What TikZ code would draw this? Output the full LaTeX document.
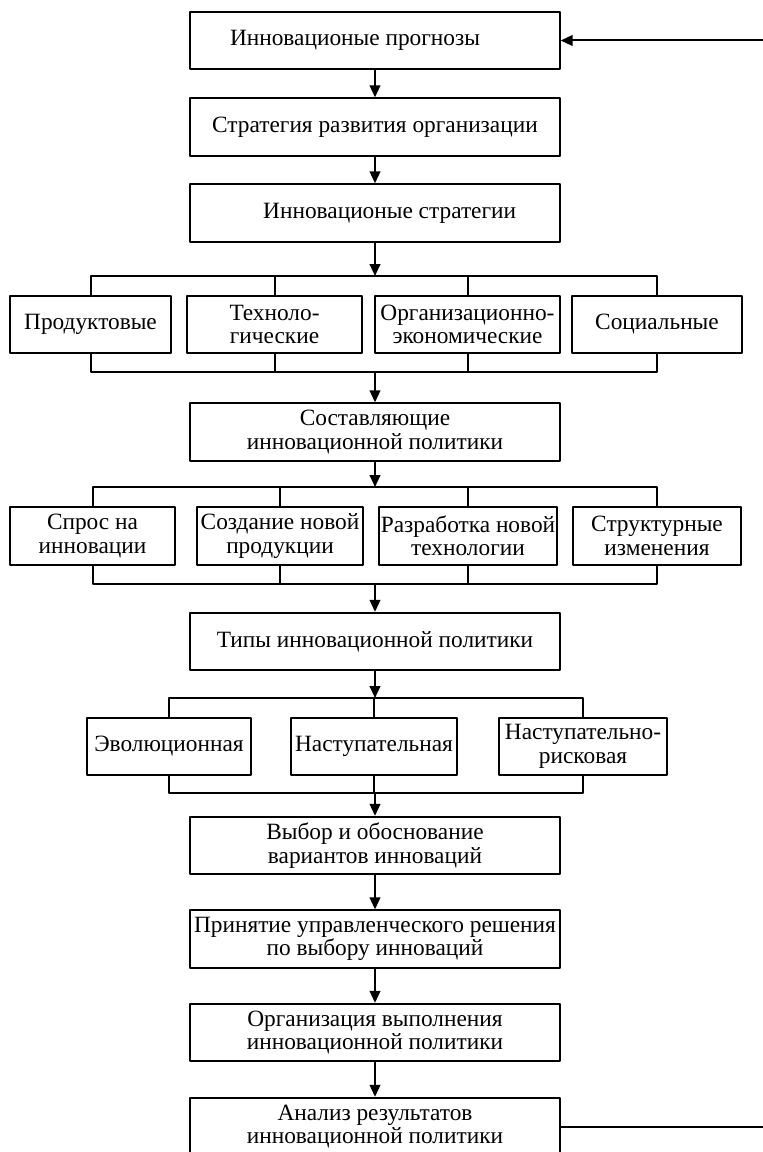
\documentclass[tikz,border=0pt]{standalone}
\usepackage{fontspec}
\setmainfont{Liberation Serif}
\usetikzlibrary{arrows.meta}
\begin{document}
\begin{tikzpicture}[x=0.75pt,y=-0.75pt,line join=round,line width=1.5pt,
  >={Triangle[length=9pt,width=8pt]},font=\fontsize{17.5}{17.5}\selectfont,
  box/.style={draw,align=center,inner sep=0pt,minimum width=277pt,minimum height=43pt},
  sbox/.style={draw,align=center,inner sep=0pt,minimum height=43pt}]
\useasboundingbox (0,0) rectangle (763,1152);
\clip (0,0) rectangle (763,1152);
% main column
\node[box] (prog) at (375,40.5) {Инновационые прогнозы\hspace*{30pt}};
\node[box] (strat) at (375,127) {Стратегия развития организации};
\node[box] (istrat) at (375,213) {\hspace*{22pt}Инновационые стратегии};
\node[box] (sost) at (375,432) {Составляющие\\инновационной политики};
\node[box] (tipy) at (375,641.5) {Типы инновационной политики};
\node[box] (vybor) at (375,845.5) {Выбор и обоснование\\вариантов инноваций};
\node[box] (prin) at (375,939) {Принятие управленческого решения\\по выбору инноваций};
\node[box] (org) at (375,1032.5) {Организация выполнения\\инновационной политики};
\node[box] (anal) at (375,1126.5) {Анализ результатов\\инновационной политики};
% strategies
\node[sbox,minimum width=121pt] (prod) at (90.5,324.5) {Продуктовые};
\node[sbox,minimum width=131pt] (tech) at (274.5,324.5) {Техноло-\\гические};
\node[sbox,minimum width=139pt] (orgek) at (467.5,324.5) {Организационно-\\экономические};
\node[sbox,minimum width=127pt] (soc) at (657,324.5) {Социальные};
% components
\node[sbox,minimum width=124pt] (spros) at (92.5,536) {Спрос на\\инновации};
\node[sbox,minimum width=124pt] (sozd) at (280,536) {Создание новой\\продукции};
\node[sbox,minimum width=133pt] (razr) at (468,536) {Разработка новой\\технологии};
\node[sbox,minimum width=126pt] (struk) at (657,536) {Структурные\\изменения};
% types
\node[sbox,minimum width=123pt] (evol) at (169,746.5) {Эволюционная};
\node[sbox,minimum width=124pt] (nast) at (374,746.5) {Наступательная};
\node[sbox,minimum width=126pt] (nrisk) at (583,746.5) {Наступательно-\\рисковая};
% buses
\coordinate (b1) at (375,276);
\coordinate (b2) at (375,372);
\coordinate (b3) at (375,487);
\coordinate (b4) at (375,584);
\coordinate (b5) at (375,698);
\coordinate (b6) at (375,793);
\coordinate (fb) at (790,0);
\draw[->] (prog) -- (strat);
\draw[->] (strat) -- (istrat);
\draw[->] (istrat) -- (b1);
\draw (prod.north) |- (b1) -| (soc.north);
\draw (tech.north) -- (tech.north |- b1);
\draw (orgek.north) -- (orgek.north |- b1);
\draw (prod.south) |- (b2) -| (soc.south);
\draw (tech.south) -- (tech.south |- b2);
\draw (orgek.south) -- (orgek.south |- b2);
\draw[->] (b2) -- (sost);
\draw[->] (sost) -- (b3);
\draw (spros.north) |- (b3) -| (struk.north);
\draw (sozd.north) -- (sozd.north |- b3);
\draw (razr.north) -- (razr.north |- b3);
\draw (spros.south) |- (b4) -| (struk.south);
\draw (sozd.south) -- (sozd.south |- b4);
\draw (razr.south) -- (razr.south |- b4);
\draw[->] (b4) -- (tipy);
\draw[->] (tipy) -- (b5);
\draw (evol.north) |- (b5) -| (nrisk.north);
\draw (nast.north) -- (nast.north |- b5);
\draw (evol.south) |- (b6) -| (nrisk.south);
\draw (nast.south) -- (nast.south |- b6);
\draw[->] (b6) -- (vybor);
\draw[->] (vybor) -- (prin);
\draw[->] (prin) -- (org);
\draw[->] (org) -- (anal);
% feedback
\draw[->] (anal.east) -- (anal.east -| fb) -- (prog.east -| fb) -- (prog.east);
\end{tikzpicture}
\end{document}
